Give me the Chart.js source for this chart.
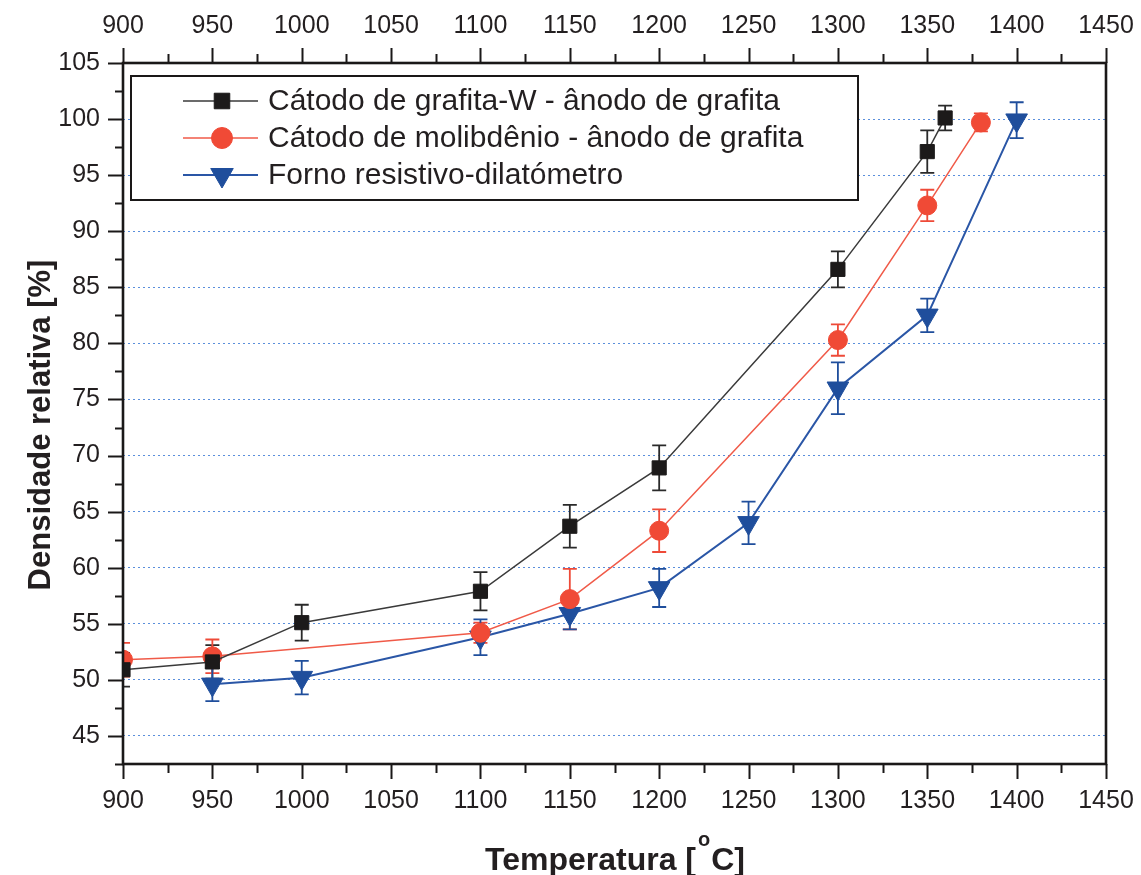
<!DOCTYPE html>
<html>
<head>
<meta charset="utf-8">
<title>Densidade relativa x Temperatura</title>
<script src="https://cdn.jsdelivr.net/npm/chart.js@4.4.1/dist/chart.umd.min.js"></script>
<style>
  html, body { margin: 0; padding: 0; background: #ffffff; }
  #wrap { width: 1141px; height: 875px; }
</style>
</head>
<body>
<div id="wrap"><canvas id="chart" width="1141" height="875"></canvas></div>
<script>
// Cátodo de grafita-W - ânodo de grafita
const tempGrafitaW = [900, 950, 1000, 1100, 1150, 1200, 1300, 1350, 1360];
const densGrafitaW = [50.9, 51.6, 55.1, 57.9, 63.7, 68.9, 86.6, 97.1, 100.1];
const errGrafitaW  = [1.5, 1.5, 1.6, 1.7, 1.9, 2.0, 1.6, 1.9, 1.1];

// Cátodo de molibdênio - ânodo de grafita
const tempMolib = [900, 950, 1100, 1150, 1200, 1300, 1350, 1380];
const densMolib = [51.8, 52.1, 54.2, 57.2, 63.3, 80.3, 92.3, 99.7];
const errMolib  = [1.5, 1.5, 0.9, 2.7, 1.9, 1.4, 1.4, 0.8];

// Forno resistivo-dilatômetro
const tempForno = [950, 1000, 1100, 1150, 1200, 1250, 1300, 1350, 1400];
const densForno = [49.6, 50.2, 53.8, 55.9, 58.2, 64.0, 76.0, 82.5, 99.9];
const errForno  = [1.5, 1.5, 1.6, 1.4, 1.7, 1.9, 2.3, 1.5, 1.6];

const seriesNames = [
  'Cátodo de grafita-W - ânodo de grafita',
  'Cátodo de molibdênio - ânodo de grafita',
  'Forno resistivo-dilatómetro'
];

const xTickValues = [900, 950, 1000, 1050, 1100, 1150, 1200, 1250, 1300, 1350, 1400, 1450];
const yTickValues = [45, 50, 55, 60, 65, 70, 75, 80, 85, 90, 95, 100, 105];

const xTitle = 'Temperatura [';
const xTitleSup = 'o';
const xTitleEnd = 'C]';
const yTitle = 'Densidade relativa [%]';

const INK = '#231f20';
const FONT = '"Liberation Sans", Arial, sans-serif';

function pts(xs, ys) { return xs.map((x, i) => ({ x: x, y: ys[i] })); }

const datasets = [
  {
    label: seriesNames[0],
    data: pts(tempGrafitaW, densGrafitaW),
    errors: errGrafitaW,
    borderColor: '#3a3a3a',
    backgroundColor: '#1c1a1a',
    pointBorderColor: '#1c1a1a',
    borderWidth: 1.5,
    pointStyle: 'rect',
    pointRadius: 10,
    pointBorderWidth: 1,
    errColor: '#2a2a2a'
  },
  {
    label: seriesNames[1],
    data: pts(tempMolib, densMolib),
    errors: errMolib,
    borderColor: '#f05a48',
    backgroundColor: '#f04a36',
    pointBorderColor: '#f04a36',
    borderWidth: 1.5,
    pointStyle: 'circle',
    pointRadius: 9.5,
    pointBorderWidth: 1,
    errColor: '#ee4a38'
  },
  {
    label: seriesNames[2],
    data: pts(tempForno, densForno),
    errors: errForno,
    borderColor: '#2a56a6',
    backgroundColor: '#1f4e9c',
    pointBorderColor: '#1f4e9c',
    borderWidth: 2,
    pointStyle: 'triangle',
    pointRotation: 180,
    pointRadius: 12.5,
    pointBorderWidth: 1,
    errColor: '#1f4e9c'
  }
];

// Vertical error bars with caps, drawn beneath the markers
const errorBars = {
  id: 'errorBars',
  beforeDatasetsDraw(chart) {
    const { ctx, chartArea: a, scales: { x, y } } = chart;
    ctx.save();
    ctx.beginPath();
    ctx.rect(a.left, a.top, a.right - a.left, a.bottom - a.top);
    ctx.clip();
    chart.data.datasets.forEach(ds => {
      ctx.strokeStyle = ds.errColor;
      ctx.lineWidth = 1.8;
      ds.data.forEach((p, i) => {
        const e = ds.errors[i];
        const px = x.getPixelForValue(p.x);
        const yt = y.getPixelForValue(p.y + e);
        const yb = y.getPixelForValue(p.y - e);
        ctx.beginPath();
        ctx.moveTo(px, yt); ctx.lineTo(px, yb);
        ctx.moveTo(px - 7, yt); ctx.lineTo(px + 7, yt);
        ctx.moveTo(px - 7, yb); ctx.lineTo(px + 7, yb);
        ctx.stroke();
      });
    });
    ctx.restore();
  }
};

// Plot frame with outward major and minor ticks
const frameTicks = {
  id: 'frameTicks',
  afterDatasetsDraw(chart) {
    const { ctx, chartArea: a, scales: { x, y } } = chart;
    ctx.save();
    ctx.strokeStyle = '#1a1818';
    ctx.lineCap = 'butt';
    ctx.lineWidth = 2;
    for (let v = x.min; v <= x.max + 1e-6; v += 25) {
      const px = Math.round(x.getPixelForValue(v)) + 0.5;
      const major = Math.abs(v % 50) < 1e-6;
      const len = major ? 15 : 9;
      ctx.beginPath();
      ctx.moveTo(px, a.bottom); ctx.lineTo(px, a.bottom + len);
      ctx.moveTo(px, a.top); ctx.lineTo(px, a.top - len);
      ctx.stroke();
    }
    for (let v = y.min; v <= y.max + 1e-6; v += 2.5) {
      const py = Math.round(y.getPixelForValue(v)) + 0.5;
      const major = Math.abs(v % 5) < 1e-6;
      const len = major ? 15 : 8;
      ctx.beginPath();
      ctx.moveTo(a.left, py); ctx.lineTo(a.left - len, py);
      ctx.stroke();
    }
    ctx.lineWidth = 2.6;
    ctx.strokeRect(a.left, a.top, a.right - a.left, a.bottom - a.top);
    ctx.restore();
  }
};

// Legend box and axis titles
const annotations = {
  id: 'annotations',
  afterDraw(chart) {
    const { ctx, chartArea: a } = chart;
    ctx.save();
    // legend
    const bx = a.left + 8, by = a.top + 13, bw = 727, bh = 124;
    ctx.fillStyle = '#ffffff';
    ctx.fillRect(bx, by, bw, bh);
    ctx.strokeStyle = '#1a1818';
    ctx.lineWidth = 2;
    ctx.strokeRect(bx, by, bw, bh);
    const rows = [101, 138, 175];
    chart.data.datasets.forEach((ds, i) => {
      const ry = rows[i];
      ctx.strokeStyle = ds.borderColor;
      ctx.lineWidth = ds.borderWidth;
      ctx.beginPath();
      ctx.moveTo(183, ry); ctx.lineTo(258, ry);
      ctx.stroke();
      ctx.fillStyle = ds.backgroundColor;
      ctx.strokeStyle = ds.pointBorderColor;
      ctx.lineWidth = 1;
      Chart.helpers.drawPoint(ctx, {
        pointStyle: ds.pointStyle,
        rotation: ds.pointRotation || 0,
        radius: ds.pointStyle === 'rect' ? 11 : ds.pointStyle === 'circle' ? 10.5 : 13,
        borderWidth: 1
      }, 222, ry);
      ctx.fillStyle = INK;
      ctx.font = '30px ' + FONT;
      ctx.textAlign = 'left';
      ctx.textBaseline = 'middle';
      ctx.fillText(ds.label, 268, ry + 1);
    });

    // y-axis title
    ctx.fillStyle = INK;
    ctx.font = 'bold 31px ' + FONT;
    ctx.save();
    ctx.translate(50, 425);
    ctx.rotate(-Math.PI / 2);
    ctx.textAlign = 'center';
    ctx.textBaseline = 'alphabetic';
    ctx.fillText(yTitle, 0, 0);
    ctx.restore();

    // x-axis title with superscript degree "o"
    const mainFont = 'bold 32px ' + FONT;
    const supFont = 'bold 20px ' + FONT;
    ctx.font = mainFont;
    const w1 = ctx.measureText(xTitle).width;
    const w3 = ctx.measureText(xTitleEnd).width;
    ctx.font = supFont;
    const w2 = ctx.measureText(xTitleSup).width;
    const total = w1 + 2 + w2 + 1 + w3;
    let cx = 615 - total / 2;
    const base = 870;
    ctx.textAlign = 'left';
    ctx.textBaseline = 'alphabetic';
    ctx.font = mainFont;
    ctx.fillText(xTitle, cx, base);
    cx += w1 + 2;
    ctx.font = supFont;
    ctx.fillText(xTitleSup, cx, base - 24);
    cx += w2 + 1;
    ctx.font = mainFont;
    ctx.fillText(xTitleEnd, cx, base);
    ctx.restore();
  }
};

const tickFont = { family: FONT, size: 25 };
const plainLabel = v => String(v);
const noSidePadding = s => { s.paddingLeft = 0; s.paddingRight = 0; };

new Chart(document.getElementById('chart'), {
  type: 'line',
  data: { datasets: datasets },
  options: {
    responsive: false,
    animation: false,
    devicePixelRatio: 1,
    layout: { padding: { left: 0, right: 35, top: 0, bottom: 0 } },
    plugins: { legend: { display: false }, tooltip: { enabled: false } },
    elements: { line: { tension: 0 } },
    scales: {
      x: {
        type: 'linear', position: 'bottom', min: 900, max: 1450,
        afterBuildTicks: s => { s.ticks = xTickValues.map(v => ({ value: v })); },
        afterFit: s => { s.height = 111; noSidePadding(s); },
        ticks: { font: tickFont, color: INK, padding: 14, maxRotation: 0, autoSkip: false, callback: plainLabel },
        grid: { display: false },
        border: { display: false }
      },
      xTop: {
        type: 'linear', position: 'top', min: 900, max: 1450,
        afterBuildTicks: s => { s.ticks = xTickValues.map(v => ({ value: v })); },
        afterFit: s => { s.height = 63; noSidePadding(s); },
        ticks: { font: tickFont, color: INK, padding: 14, maxRotation: 0, autoSkip: false, callback: plainLabel },
        grid: { display: false },
        border: { display: false }
      },
      y: {
        type: 'linear', position: 'left', min: 42.5, max: 105,
        afterBuildTicks: s => { s.ticks = yTickValues.map(v => ({ value: v })); },
        afterFit: s => { s.width = 123; s.paddingTop = 0; s.paddingBottom = 0; },
        ticks: { font: tickFont, color: INK, padding: 23, autoSkip: false, callback: plainLabel },
        grid: {
          display: true,
          drawOnChartArea: true,
          drawTicks: false,
          color: c => (c.tick && c.tick.value < 105) ? '#5a8fdc' : 'rgba(0,0,0,0)',
          lineWidth: 1
        },
        border: { display: false, dash: [2, 3] }
      }
    }
  },
  plugins: [errorBars, frameTicks, annotations]
});
</script>
</body>
</html>
